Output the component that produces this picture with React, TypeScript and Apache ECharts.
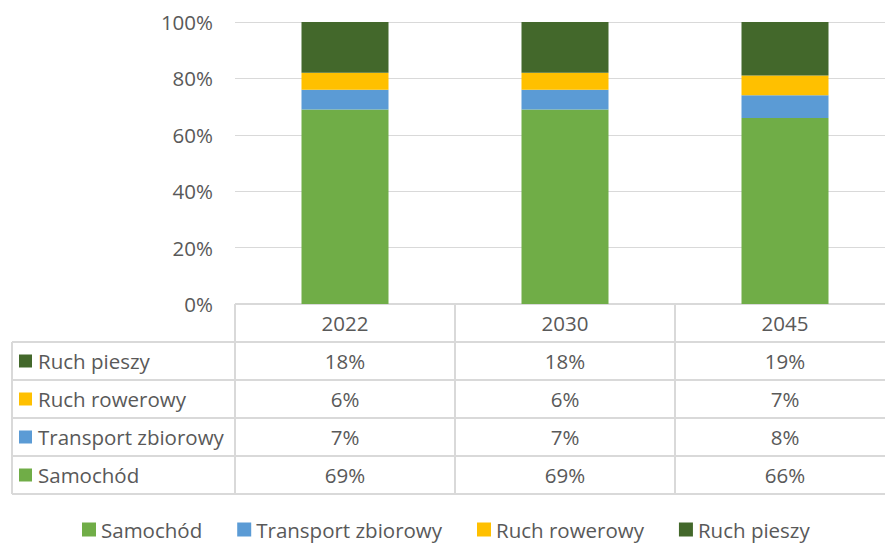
import React, { useEffect, useRef } from "react";
import * as echarts from "echarts";

const years = ["2022", "2030", "2045"];
const seriesNames = ["Samochód", "Transport zbiorowy", "Ruch rowerowy", "Ruch pieszy"];
const samochod = [69, 69, 66];
const transport = [7, 7, 8];
const rowerowy = [6, 6, 7];
const pieszy = [18, 18, 19];
const colors = ["#70ad47", "#5b9bd5", "#ffc000", "#43682b"];
const yTicks = [0, 20, 40, 60, 80, 100];

const FONT = "Open Sans";
const FS = 20.5;
const TXT = "#595959";
const LINE = "#d9d9d9";

export default function App() {
  const ref = useRef<HTMLDivElement>(null);
  useEffect(() => {
    if (!ref.current) return;
    const chart = echarts.init(ref.current, null, { renderer: "svg" });
    const values = [samochod, transport, rowerowy, pieszy];
    const gridTop = 22;
    const gridBottomY = 304;
    const rowH = 38;
    const tableLeft = 12;
    const colLeft = 235;
    const colW = 220;
    const rowOrder = [3, 2, 1, 0];

    const xAxes: any[] = [
      {
        type: "category",
        data: years,
        position: "bottom",
        offset: 0,
        axisLine: { show: false },
        axisTick: { show: false },
        axisLabel: { margin: 8, color: TXT, fontFamily: FONT, fontSize: FS },
      },
    ];
    rowOrder.forEach((si, k) => {
      xAxes.push({
        type: "category",
        data: years,
        position: "bottom",
        offset: rowH * (k + 1),
        axisLine: { show: false },
        axisTick: { show: false },
        splitLine: { show: false },
        axisLabel: {
          margin: 8,
          color: TXT,
          fontFamily: FONT,
          fontSize: FS,
          formatter: (_v: string, idx: number) => values[si][idx] + "%",
        },
      });
    });

    const graphics: any[] = [];
    const lineStyle = { stroke: LINE, lineWidth: 2 };
    graphics.push({ type: "line", shape: { x1: colLeft, y1: gridBottomY, x2: 885, y2: gridBottomY }, style: lineStyle });
    for (let k = 1; k <= 5; k++) {
      const y = gridBottomY + rowH * k;
      graphics.push({ type: "line", shape: { x1: tableLeft, y1: y, x2: 885, y2: y }, style: lineStyle });
    }
    graphics.push({ type: "line", shape: { x1: tableLeft, y1: gridBottomY + rowH, x2: tableLeft, y2: gridBottomY + rowH * 5 }, style: lineStyle });
    [0, 1, 2].forEach((c) => {
      const x = colLeft + colW * c;
      graphics.push({ type: "line", shape: { x1: x, y1: gridBottomY, x2: x, y2: gridBottomY + rowH * 5 }, style: lineStyle });
    });
    rowOrder.forEach((si, k) => {
      const cy = gridBottomY + rowH * (k + 1) + rowH / 2;
      graphics.push({ type: "rect", shape: { x: 19, y: cy - 6.5, width: 13, height: 13 }, style: { fill: colors[si] } });
      graphics.push({
        type: "text",
        x: 38,
        y: cy,
        style: { text: seriesNames[si], fill: TXT, font: `${FS}px "${FONT}"`, verticalAlign: "middle" },
      });
    });

    chart.setOption({
      animation: false,
      color: colors,
      grid: {
        left: colLeft,
        width: colW * years.length,
        top: gridTop,
        bottom: 543 - gridBottomY,
        containLabel: false,
        outerBoundsMode: "none",
      },
      xAxis: xAxes,
      yAxis: {
        type: "value",
        min: yTicks[0],
        max: yTicks[yTicks.length - 1],
        interval: 20,
        axisLine: { show: false },
        axisTick: { show: false },
        axisLabel: { margin: 22, color: TXT, fontFamily: FONT, fontSize: FS, formatter: "{value}%" },
        splitLine: { lineStyle: { color: LINE, width: 1 } },
      },
      legend: {
        left: 77,
        top: 514,
        icon: "rect",
        itemWidth: 14,
        itemHeight: 14,
        itemGap: 35,
        data: seriesNames,
        textStyle: { color: TXT, fontFamily: FONT, fontSize: FS },
      },
      series: seriesNames.map((name, i) => ({
        name,
        type: "bar",
        stack: "total",
        barWidth: 87,
        data: values[i],
        itemStyle: { color: colors[i] },
      })),
      graphic: graphics,
    });
    return () => chart.dispose();
  }, []);
  return <div ref={ref} style={{ width: 885, height: 543, position: "absolute", left: 0, top: 0 }} />;
}
